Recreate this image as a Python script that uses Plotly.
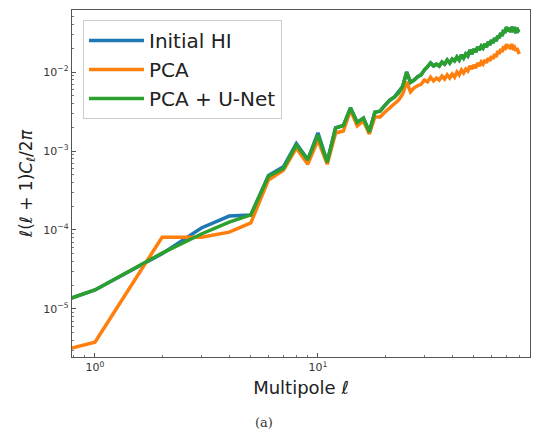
import plotly.graph_objects as go

ell = [0.5] + list(range(1, 81))

initial_hi = [8.9e-6, 1.74e-5, 5.0e-5, 1.06e-4, 1.50e-4, 1.55e-4,
              4.9e-4, 6.3e-4, 1.24e-3, 7.8e-4, 1.7e-3, 7.3e-4, 1.97e-3, 2.1e-3, 3.5e-3, 2.3e-3,
              2.6e-3, 1.76e-3, 3.1e-3, 3.2e-3, 3.8e-3, 4.4e-3, 4.8e-3, 5.6e-3, 6.6e-3, 1.0e-2,
              7.4e-3, 7.9e-3, 8.7e-3, 9.2e-3, 1.06e-2,
              0.0116, 0.0130, 0.0119, 0.0126, 0.0119, 0.0134, 0.0126, 0.0142, 0.0130, 0.0146,
              0.0138, 0.0155, 0.0142, 0.0164, 0.0150, 0.0169, 0.0159, 0.0190, 0.0169, 0.0195,
              0.0179, 0.0207, 0.0190, 0.0213, 0.0201, 0.0226, 0.0207, 0.0240, 0.0220, 0.0254,
              0.0233, 0.0269, 0.0247, 0.0286, 0.0269, 0.0312, 0.0286, 0.0340, 0.0312, 0.0371,
              0.0330, 0.0361, 0.0321, 0.0371, 0.0340, 0.0350, 0.0312, 0.0361, 0.0330, 0.0321]

pca = [2.3e-6, 3.8e-6, 8.1e-5, 8.1e-5, 9.4e-5, 1.23e-4,
       4.3e-4, 5.7e-4, 1.09e-3, 6.8e-4, 1.38e-3, 6.8e-4, 1.69e-3, 1.79e-3, 3.3e-3, 2.07e-3,
       2.4e-3, 1.64e-3, 2.69e-3, 2.69e-3, 3.12e-3, 3.5e-3, 3.94e-3, 4.42e-3, 5.27e-3, 7.5e-3,
       5.6e-3, 6.3e-3, 6.7e-3, 7.0e-3, 7.9e-3,
       7.5e-3, 8.6e-3, 7.7e-3, 8.4e-3, 7.9e-3, 8.9e-3, 8.15e-3, 9.2e-3, 8.4e-3, 9.4e-3,
       8.6e-3, 1.0e-2, 9.2e-3, 1.06e-2, 9.7e-3, 1.09e-2, 1.03e-2, 1.19e-2, 1.09e-2, 1.23e-2,
       1.12e-2, 1.30e-2, 1.19e-2, 1.34e-2, 1.26e-2, 1.42e-2, 1.30e-2, 1.50e-2, 1.38e-2, 1.59e-2,
       1.46e-2, 1.69e-2, 1.55e-2, 1.85e-2, 1.69e-2, 1.95e-2, 1.79e-2, 2.13e-2, 1.90e-2, 2.26e-2,
       2.01e-2, 2.20e-2, 1.95e-2, 2.26e-2, 2.01e-2, 2.07e-2, 1.85e-2, 2.01e-2, 1.79e-2, 1.69e-2]

pca_unet = [8.9e-6, 1.74e-5, 5.1e-5, 8.9e-5, 1.26e-4, 1.55e-4,
            4.8e-4, 6.0e-4, 1.19e-3, 7.7e-4, 1.6e-3, 7.2e-4, 1.95e-3, 2.1e-3, 3.5e-3, 2.3e-3,
            2.6e-3, 1.74e-3, 3.1e-3, 3.2e-3, 3.8e-3, 4.4e-3, 4.8e-3, 5.4e-3, 6.6e-3, 1.0e-2,
            7.4e-3, 7.9e-3, 8.7e-3, 9.2e-3, 1.06e-2,
            0.0116, 0.0130, 0.0119, 0.0126, 0.0119, 0.0134, 0.0126, 0.0142, 0.0130, 0.0146,
            0.0138, 0.0155, 0.0142, 0.0164, 0.0150, 0.0169, 0.0159, 0.0190, 0.0169, 0.0195,
            0.0179, 0.0207, 0.0190, 0.0213, 0.0201, 0.0226, 0.0207, 0.0240, 0.0220, 0.0254,
            0.0233, 0.0269, 0.0247, 0.0286, 0.0269, 0.0312, 0.0286, 0.0340, 0.0312, 0.0371,
            0.0330, 0.0361, 0.0321, 0.0371, 0.0340, 0.0350, 0.0312, 0.0361, 0.0330, 0.0321]

series_names = ["Initial HI", "PCA", "PCA + U-Net"]
colors = ["#1f77b4", "#ff7f0e", "#2ca02c"]

x_tickvals = [1, 10]
x_ticktext = ["10<sup>0</sup>", "10<sup>1</sup>"]
y_tickvals = [1e-5, 1e-4, 1e-3, 1e-2]
y_ticktext = ["10<sup>\u22125</sup>", "10<sup>\u22124</sup>", "10<sup>\u22123</sup>", "10<sup>\u22122</sup>"]

fig = go.Figure()
for name, ys, c in zip(series_names, [initial_hi, pca, pca_unet], colors):
    fig.add_trace(go.Scatter(x=ell, y=ys, mode="lines", name=name,
                             line=dict(color=c, width=3.5)))

x_minor = [v * m for v in (0.1, 1, 10) for m in range(2, 10)]
y_minor = [10.0 ** e * m for e in range(-6, -1) for m in range(2, 10)]

axis_common = dict(showline=True, linecolor="#555555", linewidth=1.3, mirror=True,
                   ticks="inside", ticklen=4, tickcolor="#555555", showgrid=False,
                   zeroline=False, tickfont=dict(family="DejaVu Sans", size=11, color="#333333"))

fig.update_xaxes(type="log", range=[-0.103, 1.951], tickvals=x_tickvals, ticktext=x_ticktext,
                 minor=dict(tickvals=x_minor, ticks="inside", ticklen=2, tickcolor="#777777"),
                 title=dict(text="Multipole <i>\u2113</i>", font=dict(family="DejaVu Sans", size=18, color="#222222"),
                            standoff=8),
                 **axis_common)
fig.update_yaxes(type="log", range=[-5.608, -1.215], tickvals=y_tickvals, ticktext=y_ticktext,
                 minor=dict(tickvals=y_minor, ticks="inside", ticklen=2, tickcolor="#777777"),
                 title=dict(text="<i>\u2113</i>(<i>\u2113</i> + 1)<i>C</i><sub><i>\u2113</i></sub>/2<i>\u03c0</i>",
                            font=dict(family="DejaVu Sans", size=17, color="#222222"), standoff=6),
                 **axis_common)

fig.add_annotation(text="(a)", xref="paper", yref="paper", x=(264 - 72) / 458, y=-(422 - 357) / 347,
                   xanchor="center", yanchor="middle",
                   showarrow=False, font=dict(family="DejaVu Serif", size=13, color="#333333"))

fig.update_layout(
    width=539, height=438,
    margin=dict(l=72, r=9, t=10, b=81),
    plot_bgcolor="white", paper_bgcolor="white",
    legend=dict(x=0.024, y=0.971, xanchor="left", yanchor="top",
                bordercolor="#cccccc", borderwidth=1, bgcolor="rgba(255,255,255,0.8)",
                font=dict(family="DejaVu Sans", size=20, color="#222222"),
                tracegroupgap=0, itemwidth=55),
    showlegend=True,
)

fig.write_html("out.html")
